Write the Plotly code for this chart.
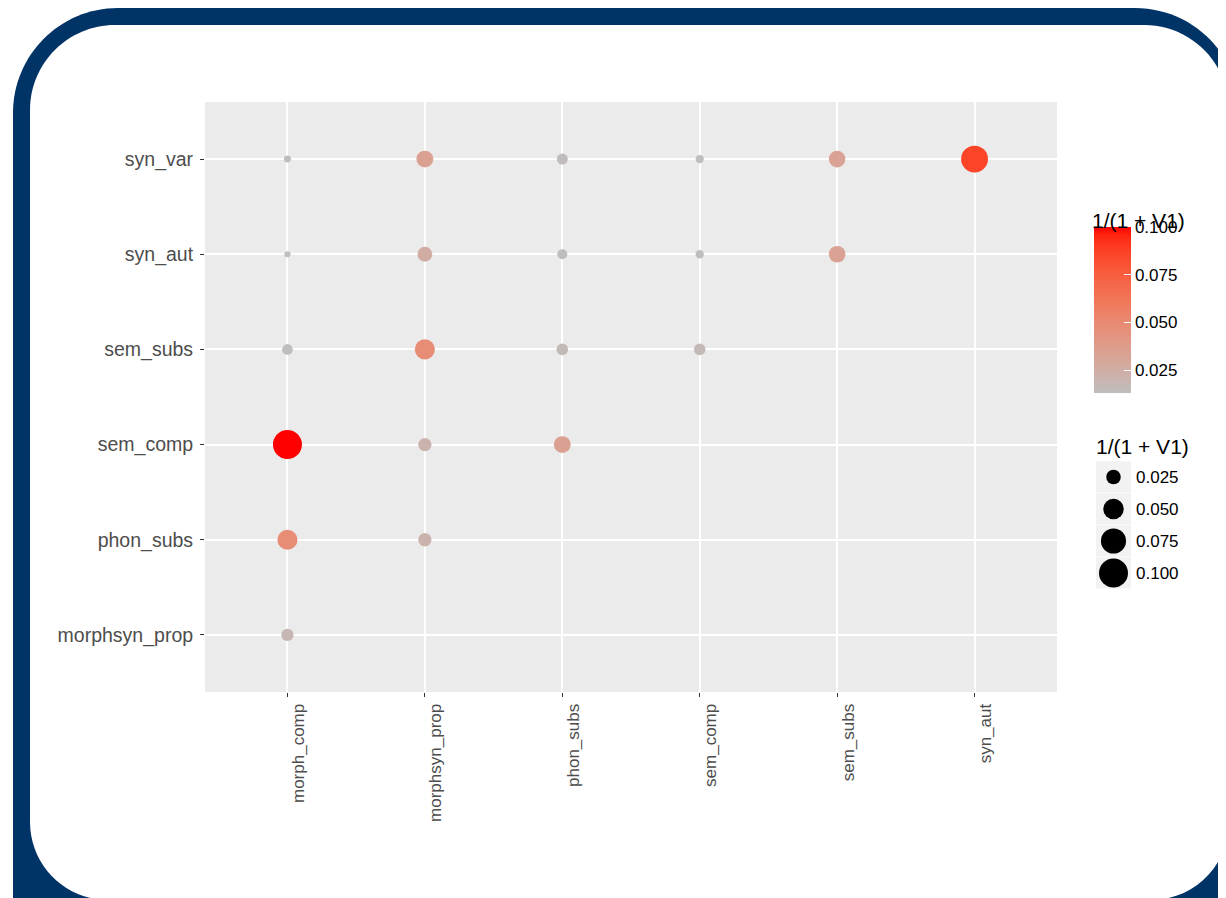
import numpy as np
import plotly.graph_objects as go

# page has an 8px body margin: figure pixel = page pixel - 8
OFF = 8
W, H = 1226 - OFF, 898 - OFF

# ---------------- data ----------------
x_categories = ["morph_comp", "morphsyn_prop", "phon_subs", "sem_comp", "sem_subs", "syn_aut"]
y_categories = ["morphsyn_prop", "phon_subs", "sem_comp", "sem_subs", "syn_aut", "syn_var"]

point_x = ["morph_comp", "morphsyn_prop", "phon_subs", "sem_comp", "sem_subs", "syn_aut",
           "morph_comp", "morphsyn_prop", "phon_subs", "sem_comp", "sem_subs",
           "morph_comp", "morphsyn_prop", "phon_subs", "sem_comp",
           "morph_comp", "morphsyn_prop", "phon_subs",
           "morph_comp", "morphsyn_prop",
           "morph_comp"]
point_y = ["syn_var"] * 6 + ["syn_aut"] * 5 + ["sem_subs"] * 4 + ["sem_comp"] * 3 + \
          ["phon_subs"] * 2 + ["morphsyn_prop"]
point_value = [0.0058, 0.034, 0.0144, 0.0082, 0.033, 0.086,
               0.0045, 0.026, 0.012, 0.0082, 0.033,
               0.0135, 0.048, 0.016, 0.016,
               0.100, 0.021, 0.034,
               0.048, 0.021,
               0.018]

legend_values = [0.025, 0.050, 0.075, 0.100]
legend_labels = ["0.025", "0.050", "0.075", "0.100"]
colorbar_ticks = [0.025, 0.050, 0.075, 0.100]
colorbar_ticktext = ["0.025", "0.050", "0.075", "0.100"]
color_min, color_max = 0.013, 0.100
legend_title = "1/(1 + V1)"

# ---------------- helpers ----------------
def px_x(p):
    return (p - OFF) / W

def px_y(p):
    return 1 - (p - OFF) / H

def size_of(v):
    return 29 * np.sqrt(np.asarray(v) / 0.1)

def srgb_to_lab(hexc):
    r, g, b = [int(hexc[i:i + 2], 16) / 255 for i in (1, 3, 5)]
    def lin(c):
        return c / 12.92 if c <= 0.04045 else ((c + 0.055) / 1.055) ** 2.4
    r, g, b = lin(r), lin(g), lin(b)
    X = (0.4124 * r + 0.3576 * g + 0.1805 * b) / 0.95047
    Y = (0.2126 * r + 0.7152 * g + 0.0722 * b)
    Z = (0.0193 * r + 0.1192 * g + 0.9505 * b) / 1.08883
    def f(t):
        return t ** (1 / 3) if t > 0.008856 else 7.787 * t + 16 / 116
    fx, fy, fz = f(X), f(Y), f(Z)
    return 116 * fy - 16, 500 * (fx - fy), 200 * (fy - fz)

def lab_to_hex(L, a, b):
    fy = (L + 16) / 116
    fx = fy + a / 500
    fz = fy - b / 200
    def finv(t):
        return t ** 3 if t ** 3 > 0.008856 else (t - 16 / 116) / 7.787
    X, Y, Z = finv(fx) * 0.95047, finv(fy), finv(fz) * 1.08883
    r = 3.2406 * X - 1.5372 * Y - 0.4986 * Z
    g = -0.9689 * X + 1.8758 * Y + 0.0415 * Z
    bb = 0.0557 * X - 0.2040 * Y + 1.0570 * Z
    def gam(c):
        c = max(0.0, min(1.0, c))
        return 12.92 * c if c <= 0.0031308 else 1.055 * c ** (1 / 2.4) - 0.055
    return "#%02x%02x%02x" % tuple(int(round(gam(c) * 255)) for c in (r, g, bb))

low_lab = srgb_to_lab("#bebebe")
high_lab = srgb_to_lab("#ff0000")
colorscale = []
for t in np.linspace(0, 1, 21):
    lab = [lo + (hi - lo) * t for lo, hi in zip(low_lab, high_lab)]
    colorscale.append([float(t), lab_to_hex(*lab)])

def rounded_path(l, t, r, b, rt, rb):
    k = 0.5523
    X = px_x
    Y = px_y
    p = f"M {X(l + rt)},{Y(t)} L {X(r - rt)},{Y(t)} "
    p += f"C {X(r - rt + k * rt)},{Y(t)} {X(r)},{Y(t + rt - k * rt)} {X(r)},{Y(t + rt)} "
    p += f"L {X(r)},{Y(b - rb)} "
    p += f"C {X(r)},{Y(b - rb + k * rb)} {X(r - rb + k * rb)},{Y(b)} {X(r - rb)},{Y(b)} "
    p += f"L {X(l + rb)},{Y(b)} "
    p += f"C {X(l + rb - k * rb)},{Y(b)} {X(l)},{Y(b - rb + k * rb)} {X(l)},{Y(b - rb)} "
    p += f"L {X(l)},{Y(t + rt)} "
    p += f"C {X(l)},{Y(t + rt - k * rt)} {X(l + rt - k * rt)},{Y(t)} {X(l + rt)},{Y(t)} Z"
    return p

# ---------------- figure ----------------
fig = go.Figure()

fig.add_trace(go.Scatter(
    x=point_x, y=point_y, mode="markers", xaxis="x", yaxis="y",
    marker=dict(
        size=size_of(point_value), color=point_value, colorscale=colorscale,
        cmin=color_min, cmax=color_max, opacity=1, line=dict(width=0),
        showscale=True,
        colorbar=dict(
            x=px_x(1094), xanchor="left", y=px_y(310), yanchor="middle",
            len=166, lenmode="pixels", thickness=37, thicknessmode="pixels",
            outlinewidth=0, xpad=0, ypad=0,
            tickvals=colorbar_ticks, ticktext=colorbar_ticktext,
            ticks="inside", ticklen=7, tickcolor="white", tickwidth=1,
            tickfont=dict(family="Liberation Sans, Arial", size=17, color="#000000"),
        ),
    ),
    showlegend=False, hoverinfo="x+y+text", text=[str(v) for v in point_value],
))

fig.add_trace(go.Scatter(
    x=["k"] * len(legend_values), y=legend_labels, mode="markers",
    xaxis="x2", yaxis="y2",
    marker=dict(size=size_of(legend_values), color="#000000", opacity=1,
                line=dict(width=0)),
    showlegend=False, hoverinfo="skip",
))

axis_font = dict(family="Liberation Sans, Arial", color="#4d4d4d")

shapes = [
    dict(type="path", xref="paper", yref="paper", layer="below",
         path=rounded_path(13, 8, 1240, 1010, 105, 105),
         fillcolor="#003366", line=dict(width=0)),
    dict(type="path", xref="paper", yref="paper", layer="below",
         path=rounded_path(30, 25, 1229, 900, 85, 78),
         fillcolor="#ffffff", line=dict(width=0)),
    dict(type="rect", xref="x domain", yref="y domain", x0=0, x1=1, y0=0, y1=1,
         layer="below", fillcolor="#ebebeb", line=dict(width=0)),
]
for i in range(len(legend_labels)):
    shapes.append(dict(type="rect", xref="x2 domain", yref="y2",
                       x0=0, x1=1, y0=i - 0.485, y1=i + 0.485, layer="below",
                       fillcolor="#f2f2f2", line=dict(width=0)))

fig.update_layout(
    width=W, height=H,
    margin=dict(l=0, r=0, t=0, b=0),
    paper_bgcolor="white", plot_bgcolor="#ebebeb",
    shapes=shapes,
    xaxis=dict(
        domain=[px_x(205), px_x(1057)], anchor="y",
        type="category", categoryorder="array", categoryarray=x_categories,
        range=[-0.6, 5.6], showgrid=True, gridcolor="white", gridwidth=2,
        zeroline=False, showline=False,
        ticks="outside", ticklen=4, tickcolor="#333333", tickwidth=1,
        tickangle=-90, tickfont=dict(size=17, **axis_font),
        ticklabelstandoff=0, ticklabelshift=11,
    ),
    yaxis=dict(
        domain=[px_y(692), px_y(102)], anchor="x",
        type="category", categoryorder="array", categoryarray=y_categories,
        range=[-0.6, 5.6], showgrid=True, gridcolor="white", gridwidth=2,
        zeroline=False, showline=False,
        ticks="outside", ticklen=4, tickcolor="#333333", tickwidth=1,
        tickfont=dict(size=19.5, **axis_font), ticklabelstandoff=3,
    ),
    xaxis2=dict(
        domain=[px_x(1096), px_x(1131)], anchor="y2",
        range=[-0.5, 0.5], type="category",
        showgrid=False, zeroline=False, showline=False, showticklabels=False,
        ticks="",
    ),
    yaxis2=dict(
        domain=[px_y(589), px_y(461)], anchor="x2", side="right",
        type="category", categoryorder="array",
        categoryarray=legend_labels[::-1], range=[-0.5, 3.5],
        showgrid=False, zeroline=False, showline=False, ticks="",
        tickfont=dict(family="Liberation Sans, Arial", size=17, color="#000000"),
        ticklabelstandoff=4,
    ),
    annotations=[
        dict(text=legend_title, x=px_x(1090), y=px_y(220), xref="paper", yref="paper",
             xanchor="left", yanchor="middle", showarrow=False,
             font=dict(family="Liberation Sans, Arial", size=21, color="#000000")),
        dict(text=legend_title, x=px_x(1094), y=px_y(446), xref="paper", yref="paper",
             xanchor="left", yanchor="middle", showarrow=False,
             font=dict(family="Liberation Sans, Arial", size=21, color="#000000")),
    ],
)

fig.write_html("out.html")
